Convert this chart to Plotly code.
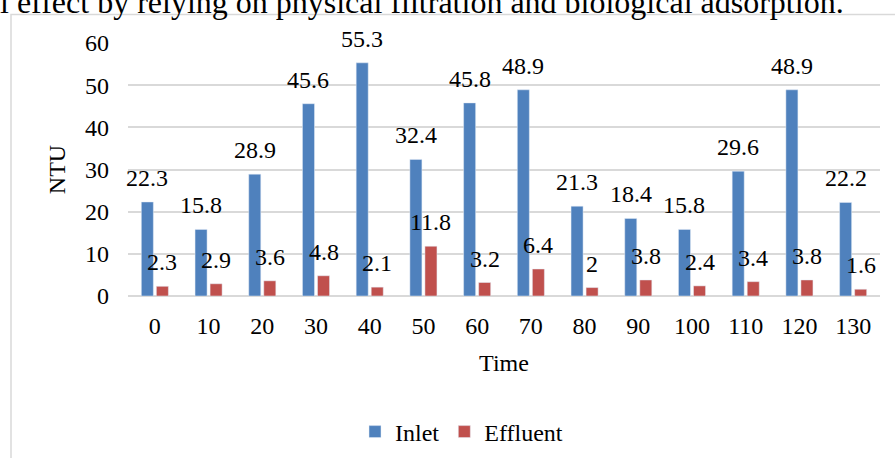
import plotly.graph_objects as go

# Turbidity readings over time
time_labels = ["0", "10", "20", "30", "40", "50", "60", "70", "80", "90", "100", "110", "120", "130"]
inlet = [22.3, 15.8, 28.9, 45.6, 55.3, 32.4, 45.8, 48.9, 21.3, 18.4, 15.8, 29.6, 48.9, 22.2]
effluent = [2.3, 2.9, 3.6, 4.8, 2.1, 11.8, 3.2, 6.4, 2.0, 3.8, 2.4, 3.4, 3.8, 1.6]

W, H = 895, 458
ML, MR, MT, MB = 128, 15, 43, 162
PW, PH = W - ML - MR, H - MT - MB

def px_x(p):
    return (p - ML) / PW

def px_y(p):
    return (H - MB - p) / PH

FONT = "Liberation Serif"
BLUE = "#4F81BD"
RED = "#C0504D"
BARGAP = 0.44

fig = go.Figure()
fig.add_trace(go.Bar(name="Inlet", x=time_labels, y=inlet, marker_color=BLUE))
fig.add_trace(go.Bar(name="Effluent", x=time_labels, y=effluent, marker_color=RED))

# value labels above each bar (category index positions)
slot = PW / len(time_labels) * (1 - BARGAP) / 2
for series, sign in ((inlet, -1), (effluent, 1)):
    for i, v in enumerate(series):
        fig.add_annotation(
            x=i, y=v, xref="x", yref="y",
            text=f"{v:g}", showarrow=False,
            xshift=sign * slot / 2, yshift=24, yanchor="middle",
            font=dict(family=FONT, size=24, color="black"),
        )

# chart frame
fig.add_shape(
    type="rect", xref="paper", yref="paper",
    x0=px_x(11), x1=px_x(W + 20), y0=px_y(H + 20), y1=px_y(14.5),
    line=dict(color="#D9D9D9", width=1.5), fillcolor="rgba(0,0,0,0)", layer="below",
)

# body text line above the chart
fig.add_annotation(
    x=px_x(-2), y=px_y(22), xref="paper", yref="paper",
    xanchor="left", yanchor="bottom", showarrow=False,
    text="l effect by relying on physical filtration and biological adsorption.",
    font=dict(family=FONT, size=32, color="black"),
)

fig.update_layout(
    width=W, height=H,
    margin=dict(l=ML, r=MR, t=MT, b=MB, autoexpand=False),
    paper_bgcolor="white", plot_bgcolor="white",
    barmode="group", bargap=BARGAP, bargroupgap=0.2,
    font=dict(family=FONT, size=24, color="black"),
    showlegend=True,
    legend=dict(
        orientation="h", xref="container", yref="container",
        x=355 / W, y=1 - 432 / H, xanchor="left", yanchor="middle",
        font=dict(family=FONT, size=24), itemwidth=30,
    ),
    xaxis=dict(
        type="category", range=[-0.5, len(time_labels) - 0.5], automargin=False,
        title=dict(text="Time", font=dict(family=FONT, size=24), standoff=16),
        showgrid=False, showline=False, zeroline=False, ticks="",
        ticklabelstandoff=13, tickfont=dict(family=FONT, size=24),
    ),
    yaxis=dict(
        automargin=False,
        title=dict(text="NTU", font=dict(family=FONT, size=24), standoff=12),
        range=[0, 60], dtick=10, showgrid=True, gridcolor="#D9D9D9", gridwidth=1.5,
        zeroline=True, zerolinecolor="#D9D9D9", zerolinewidth=1.5,
        showline=False, ticks="", ticklabelstandoff=18, tickfont=dict(family=FONT, size=24),
    ),
)

fig.write_html("out.html")
